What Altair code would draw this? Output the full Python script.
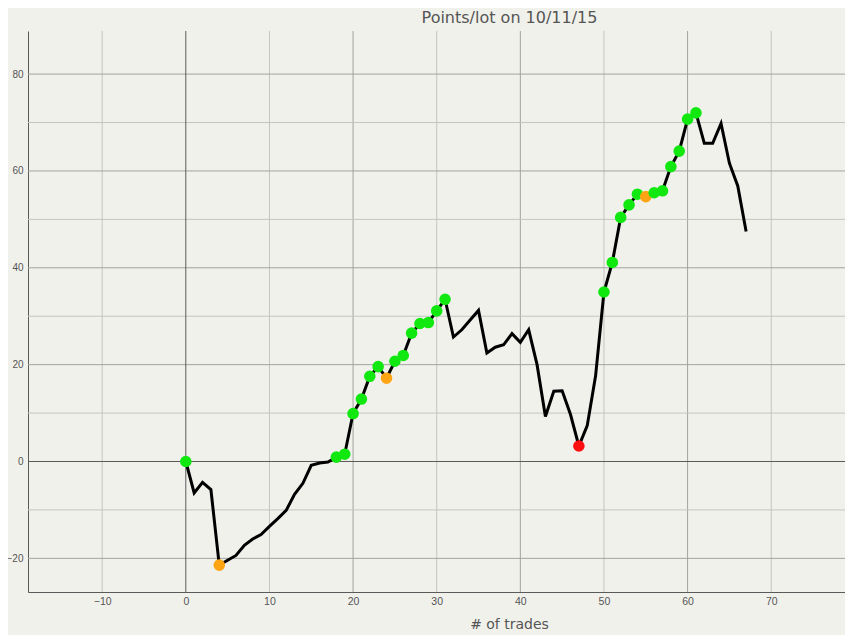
import altair as alt
import pandas as pd

# trade index and cumulative points/lot
trades = list(range(0, 68))
points = [0, -6.5, -4.3, -5.8, -21.4, -20.4, -19.4, -17.3, -16.0, -15.1,
          -13.4, -11.8, -10.1, -6.8, -4.5, -0.8, -0.3, -0.1, 0.9, 1.5,
          9.9, 12.9, 17.6, 19.6, 17.2, 20.7, 21.9, 26.5, 28.5, 28.7,
          31.1, 33.5, 25.7, 27.2, 29.2, 31.2, 22.4, 23.6, 24.1, 26.4,
          24.6, 27.2, 20.0, 9.3, 14.5, 14.6, 9.7, 3.2, 7.4, 17.7,
          35.0, 41.1, 50.4, 53.0, 55.2, 54.7, 55.5, 55.9, 60.9, 64.1,
          70.7, 72.0, 65.7, 65.7, 69.8, 61.6, 56.9, 47.5]

# marker category per trade ("" = no marker)
markers = (["g"] + [""] * 3 + ["o"] + [""] * 13 + ["g"] * 6 + ["o"] + ["g"] * 7
           + [""] * 15 + ["r"] + [""] * 2 + ["g"] * 5 + ["o"] + ["g"] * 6 + [""] * 6)

x_ticks = list(range(-10, 80, 10))
y_ticks = [-20, 0, 20, 40, 60, 80]
x_minor = [-10, 10, 30, 50, 70]
x_major = [20, 40, 60]
y_minor = [-10, 10, 30, 50, 70]
y_major = [-20, 20, 40, 60, 80]
zero = [0]

df = pd.DataFrame({"x": trades, "y": points, "m": markers})
dm = df[df["m"] != ""]

W, H = 817, 561
xs = alt.Scale(domain=[-18.87, -18.87 + W / 8.363], nice=False, zero=False)
ys = alt.Scale(domain=[-26.95, 88.9], nice=False, zero=False)

GRID_LIGHT = "#c4c4c0"
GRID_DARK = "#a2a2a0"
ZERO = "#5a5a5a"
TXT = "#555555"
LBL_FONT = "Liberation Sans"

X_AX = alt.Axis(values=x_ticks, grid=False, ticks=False, labelPadding=4,
                titlePadding=11, domainColor=ZERO, labelFontSize=10.5,
                titleFontSize=14, labelColor=TXT, titleColor=TXT,
                titleFontWeight="normal", labelFont=LBL_FONT,
                titleFont="DejaVu Sans", labelFlush=False, titleX=481)
Y_AX = alt.Axis(values=y_ticks, grid=False, ticks=False, labelPadding=5,
                domainColor=ZERO, labelFontSize=10, labelColor=TXT,
                labelFont=LBL_FONT, labelFlush=False)


def X():
    return alt.X("x:Q", scale=xs, axis=X_AX, title="# of trades")


def Y():
    return alt.Y("y:Q", scale=ys, axis=Y_AX, title=None)


def vrules(vals, color):
    return alt.Chart(pd.DataFrame({"x": vals})).mark_rule(color=color, strokeWidth=1).encode(x=X())


def hrules(vals, color):
    return alt.Chart(pd.DataFrame({"y": vals})).mark_rule(color=color, strokeWidth=1).encode(y=Y())


line = alt.Chart(df).mark_line(color="black", strokeWidth=3).encode(x=X(), y=Y())

pts = alt.Chart(dm).mark_circle(size=135, opacity=1).encode(
    x=X(), y=Y(),
    color=alt.Color("m:N", scale=alt.Scale(domain=["g", "o", "r"],
                                           range=["#10e810", "#ffa514", "#ff1010"]),
                    legend=None),
)

chart = alt.layer(
    vrules(x_minor, GRID_LIGHT), vrules(x_major, GRID_DARK),
    hrules(y_minor, GRID_LIGHT), hrules(y_major, GRID_DARK),
    vrules(zero, ZERO), hrules(zero, ZERO),
    line, pts,
).properties(
    width=W, height=H,
    title=alt.TitleParams("Points/lot on 10/11/15", fontSize=16, color=TXT,
                          font="DejaVu Sans", fontWeight="normal", anchor="middle",
                          offset=5, dx=73),
    autosize=alt.AutoSizeParams(type="none"),
    padding={"left": 20, "top": 23, "right": 0, "bottom": 43},
).configure(background="#f1f1ec").configure_view(stroke=None)

chart.save("out.html", embed_options={"renderer": "svg", "actions": False})
